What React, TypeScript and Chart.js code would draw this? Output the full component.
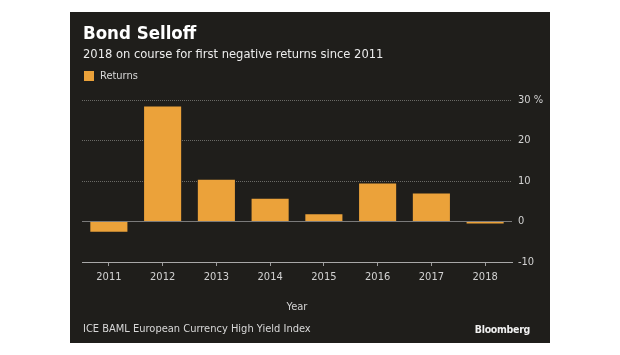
import React, { useEffect, useRef } from "react";
import { Chart, registerables } from "chart.js";

Chart.register(...registerables);

const categories = ["2011", "2012", "2013", "2014", "2015", "2016", "2017", "2018"];
const returns = [-2.5, 28.4, 10.3, 5.6, 1.8, 9.4, 6.9, -0.5];
const yTickValues = [-10, 0, 10, 20, 30];
const seriesName = "Returns";
const titleText = "Bond Selloff";
const subtitleText = "2018 on course for first negative returns since 2011";
const sourceText = "ICE BAML European Currency High Yield Index";
const brandText = "Bloomberg";
const xAxisTitle = "Year";

const FONT = '"DejaVu Sans Condensed", "DejaVu Sans", sans-serif';
const BG = "#1f1e1b";
const BAR = "#eba23a";

export default function App() {
  const ref = useRef<HTMLCanvasElement | null>(null);

  useEffect(() => {
    if (!ref.current) return;
    const chart = new Chart(ref.current, {
      type: "bar",
      data: {
        labels: categories,
        datasets: [
          {
            label: seriesName,
            data: returns,
            backgroundColor: BAR,
            borderWidth: 0,
            categoryPercentage: 1,
            barPercentage: 0.69,
          },
        ],
      },
      options: {
        responsive: false,
        animation: false,
        layout: { padding: { left: 12, right: 0, top: 88, bottom: 0 } },
        plugins: {
          legend: { display: false },
          title: { display: false },
          tooltip: { enabled: false },
        },
        scales: {
          x: {
            grid: {
              display: true,
              drawOnChartArea: false,
              drawTicks: true,
              tickLength: 4,
              offset: false,
              color: "#9c9c9c",
            },
            border: { display: true, color: "#a8a8a8", width: 1 },
            ticks: {
              color: "#d2d2d2",
              font: { family: FONT, size: 11 },
              padding: 5,
              maxRotation: 0,
            },
            title: {
              display: true,
              text: xAxisTitle,
              color: "#d2d2d2",
              font: { family: FONT, size: 11 },
              padding: { top: 0, bottom: 29 },
            },
            afterFit: (s: any) => {
              s.height = 81;
            },
          },
          y: {
            position: "right",
            min: -10,
            max: 30,
            afterBuildTicks: (s: any) => {
              s.ticks = yTickValues.map((v) => ({ value: v }));
            },
            grid: {
              drawTicks: false,
              color: (ctx: any) => {
                const v = ctx.tick ? ctx.tick.value : 0;
                if (v === -10) return "rgba(0,0,0,0)";
                if (v === 0) return "#7a7a7a";
                return "#6a6a66";
              },
              lineWidth: 1,
            },
            border: {
              display: false,
              dash: (ctx: any) => {
                const v = ctx.tick ? ctx.tick.value : 0;
                return v === 0 || v === -10 ? [] : [1, 1];
              },
            },
            ticks: {
              color: "#d2d2d2",
              font: { family: FONT, size: 11 },
              padding: 6,
              callback: (v: any) => (v === 30 ? "30 %" : String(v)),
            },
            afterFit: (s: any) => {
              s.width = 38;
            },
          },
        },
      },
    });
    return () => chart.destroy();
  }, []);

  const abs = (o: React.CSSProperties): React.CSSProperties => ({ position: "absolute", whiteSpace: "nowrap", fontFamily: FONT, ...o });

  return (
    <div style={{ position: "fixed", left: 0, top: 0, width: 620, height: 355, background: "#ffffff" }}>
      <div style={{ position: "absolute", left: 70, top: 12, width: 480, height: 331, background: BG }}>
        <canvas ref={ref} width={480} height={331} style={{ position: "absolute", left: 0, top: 0, width: 480, height: 331 }} />
        <div style={abs({ left: 13, top: 10, lineHeight: "22px", fontSize: 18.5, fontWeight: "bold", color: "#ffffff" })}>{titleText}</div>
        <div style={abs({ left: 13, top: 34, lineHeight: "16px", fontSize: 12.8, color: "#ececec" })}>{subtitleText}</div>
        <div style={abs({ left: 14, top: 59, width: 10, height: 10, background: BAR })} />
        <div style={abs({ left: 30, top: 57, lineHeight: "14px", fontSize: 11, color: "#d8d8d8" })}>{seriesName}</div>
        <div style={abs({ left: 13, top: 310, lineHeight: "14px", fontSize: 11, color: "#d8d8d8" })}>{sourceText}</div>
        <div style={abs({ right: 20, top: 310, lineHeight: "14px", fontSize: 10.5, letterSpacing: "-0.3px", fontWeight: "bold", color: "#f0f0f0" })}>{brandText}</div>
      </div>
    </div>
  );
}
